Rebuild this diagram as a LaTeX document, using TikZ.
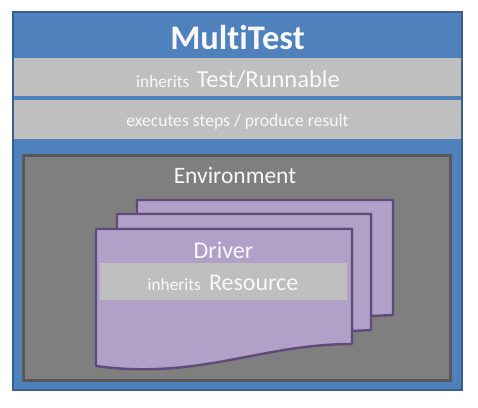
\documentclass[tikz,border=0pt]{standalone}
\usepackage{fontspec}
\setmainfont[Ligatures={NoCommon}]{Carlito}
\definecolor{outerblue}{HTML}{4F81BD}
\definecolor{outerline}{HTML}{3A5F8E}
\definecolor{band}{HTML}{BFBFBF}
\definecolor{envfill}{HTML}{7F7F7F}
\definecolor{envline}{HTML}{595959}
\definecolor{pagefill}{HTML}{B1A0C7}
\definecolor{pageline}{HTML}{604A7B}
\definecolor{txt}{HTML}{F8F8F8}
\tikzset{
  lbl/.style={inner sep=0pt, text=txt, anchor=base},
  pagestyle/.style={fill=pagefill, draw=pageline, line width=2.4pt, line join=round},
}
\begin{document}
\begin{tikzpicture}[x=1pt,y=-1pt]
\useasboundingbox (0,0) rectangle (478,407);
% outer box
\draw[fill=outerblue, draw=outerline, line width=2pt] (13,12) rectangle (462,390);
\fill[band] (14,58) rectangle (461,96);
\fill[band] (14,100) rectangle (461,139);
\node[lbl] (title) at (237.5,49) {\fontsize{34.5}{38}\selectfont\bfseries MultiTest};
\node[lbl] (inh1) at (238,87) {\fontsize{17.3}{20}\selectfont inherits\hspace{7pt}\fontsize{24.5}{28}\selectfont Test/Runnable};
\node[lbl] (exec) at (237.5,126) {\fontsize{17.6}{20}\selectfont executes steps / produce result};
% environment
\draw[fill=envfill, draw=envline, line width=3pt] (23,155) rectangle (450,380);
\node[lbl] (env) at (235,183) {\fontsize{23.5}{27}\selectfont Environment};
% pages
\draw[pagestyle] (137,200) -- (393,200) -- (393,315) -- (371,316) -- (371,214) -- (137,214) -- cycle;
\draw[pagestyle] (117,214) -- (371,214) -- (371,330) -- (352,331) -- (352,229) -- (117,229) -- cycle;
\draw[pagestyle] (96,229) -- (352,229) -- (352,344)
  .. controls (260,344) and (200,380) .. (96,366) -- cycle;
\fill[band] (100,263) rectangle (347,300);
\node[lbl] (drv) at (223.5,258) {\fontsize{24}{28}\selectfont Driver};
\node[lbl] (inh2) at (223,290) {\fontsize{17.3}{20}\selectfont inherits\hspace{8pt}\fontsize{24}{28}\selectfont Resource};
\end{tikzpicture}
\end{document}
